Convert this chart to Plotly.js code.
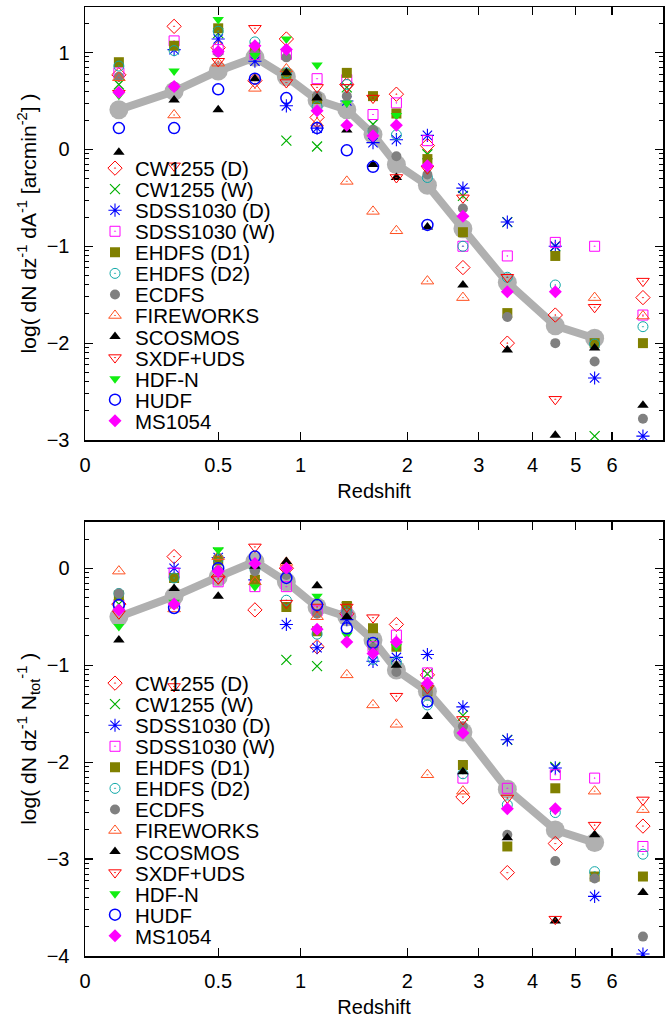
<!DOCTYPE html>
<html><head><meta charset="utf-8">
<script src="https://cdn.plot.ly/plotly-3.0.1.min.js"></script>
<style>html,body{margin:0;padding:0;background:#fff}</style>
</head><body><div id="chart" style="width:665px;height:1021px"></div>
<script>
// ---------------- data ----------------
const redshift = [0.1, 0.3, 0.5, 0.7, 0.9, 1.125, 1.375, 1.625, 1.875, 2.25, 2.75, 3.5, 4.5, 5.5, 7];
const avgRedshift = [0.1, 0.3, 0.5, 0.7, 0.9, 1.125, 1.375, 1.625, 1.875, 2.25, 2.75, 3.5, 4.5, 5.5];
const xTickValues = [0, 0.5, 1, 2, 3, 4, 5, 6];
const xTickLabels = ['0', '0.5', '1', '2', '3', '4', '5', '6'];
const names = ['CW1255 (D)', 'CW1255 (W)', 'SDSS1030 (D)', 'SDSS1030 (W)', 'EHDFS (D1)', 'EHDFS (D2)', 'ECDFS',
  'FIREWORKS', 'SCOSMOS', 'SXDF+UDS', 'HDF-N', 'HUDF', 'MS1054'];

// top panel: log(dN dz^-1 dA^-1 [arcmin^-2])
const avgArea = [0.41, 0.60, 0.81, 0.95, 0.75, 0.51, 0.41, 0.155, -0.155, -0.37, -0.82, -1.375, -1.82, -1.95];
const cw1255D_area   = [0.77, 1.27, 1.05, 0.71, 1.14, 0.33, 0.67, null, 0.57, 0.04, -1.22, -2.00, -1.71, null, -1.53];
const cw1255W_area   = [0.67, null, 1.20, null, 0.09, 0.03, 0.64, 0.26, null, -0.05, -0.48, -0.75, -1.00, -2.96, null];
const sdss1030D_area = [null, 1.03, 1.14, 0.91, 0.45, 0.22, 0.50, 0.07, 0.10, 0.145, -0.40, -0.75, -1.00, -2.36, -2.96];
const sdss1030W_area = [0.79, 1.12, 1.03, 0.98, 0.98, 0.73, 0.72, 0.36, 0.48, 0.09, -1.00, -1.10, -0.96, -1.00, -1.71];
const ehdfsD1_area   = [0.90, 1.07, 1.25, 1.05, 0.78, 0.52, 0.79, 0.55, 0.37, -0.10, -0.855, -1.69, -1.10, -2.00, -2.00];
const ehdfsD2_area   = [0.86, 1.02, 1.22, 1.11, 0.79, 0.44, 0.67, 0.19, 0.15, -0.29, -1.00, -1.32, -1.40, -2.01, -1.83];
const ecdfs_area     = [0.75, 0.65, 1.00, 0.99, 0.95, 0.55, 0.55, 0.20, -0.07, -0.26, -0.61, -1.73, -2.00, -2.19, -2.78];
const fireworks_area = [0.74, 0.355, 0.89, 0.63, 0.83, 0.27, -0.33, -0.64, -0.84, -1.36, -1.53, null, null, -1.53, -1.72];
const scosmos_area   = [-0.03, 0.51, 0.41, 0.73, 0.79, 0.53, 0.20, -0.155, -0.29, -0.80, -1.40, -2.07, -2.95, -2.05, -2.64];
const sxdf_area      = [0.58, -0.17, 0.91, 1.25, 0.69, 0.64, 0.64, 0.53, -0.29, -0.20, -0.50, -1.32, -2.58, -1.63, -1.36];
const hdfn_area      = [0.56, 0.81, 1.34, 0.97, 1.14, 0.87, 0.48, null, 0.35, null, null, null, null, null, null];
const hudf_area      = [0.22, 0.22, 0.62, 0.73, 0.53, 0.22, -0.01, -0.18, null, -0.78, null, null, null, null, null];
const ms1054_area    = [0.59, 0.65, 1.01, 1.07, 1.03, 0.40, 0.25, 0.14, 0.25, -0.17, -0.69, -1.47, -1.47, null, null];

// bottom panel: log(dN dz^-1 Ntot^-1)
const avgNorm = [-0.50, -0.29, -0.09, 0.07, -0.14, -0.40, -0.50, -0.74, -1.05, -1.27, -1.69, -2.28, -2.70, -2.83];
const cw1255D_norm   = [-0.37, 0.12, -0.09, -0.43, 0.00, -0.81, -0.47, null, -0.58, -1.10, -2.36, -3.14, -2.84, null, -2.66];
const cw1255W_norm   = [-0.37, null, 0.16, null, -0.945, -1.01, -0.40, -0.77, null, -1.09, -1.52, -1.77, -2.05, null, null];
const sdss1030D_norm = [null, 0.00, 0.11, -0.12, -0.58, -0.82, -0.53, -0.96, -0.92, -0.89, -1.43, -1.77, -2.06, -3.385, -3.98];
const sdss1030W_norm = [-0.38, -0.05, -0.14, -0.19, -0.19, -0.44, -0.45, -0.81, -0.69, -1.08, -2.165, -2.27, -2.13, -2.165, -2.87];
const ehdfsD1_norm   = [-0.28, -0.10, 0.08, -0.12, -0.40, -0.65, -0.39, -0.62, -0.81, -1.27, -2.03, -2.87, -2.27, -3.18, -3.18];
const ehdfsD2_norm   = [-0.26, -0.10, 0.10, -0.01, -0.33, -0.68, -0.45, -0.94, -0.97, -1.41, -2.12, -2.44, -2.52, -3.13, -2.95];
const ecdfs_norm     = [-0.26, -0.37, -0.02, -0.03, -0.07, -0.47, -0.47, -0.82, -1.07, -1.28, -1.63, -2.75, -3.02, -3.20, -3.80];
const fireworks_norm = [-0.03, -0.42, 0.12, -0.14, 0.06, -0.50, -1.10, -1.41, -1.61, -2.13, -2.30, null, null, -2.30, -2.49];
const scosmos_norm   = [-0.74, -0.21, -0.29, 0.02, 0.07, -0.18, -0.50, -0.86, -1.00, -1.53, -2.10, -2.78, -3.64, -2.75, -3.345];
const sxdf_norm      = [-0.47, -1.22, -0.11, 0.22, -0.36, -0.40, -0.40, -0.51, -1.32, -1.24, -1.56, -2.37, -3.62, -2.65, -2.39];
const hdfn_norm      = [-0.60, -0.35, 0.19, -0.19, -0.02, -0.29, -0.69, null, -0.81, null, null, null, null, null, null];
const hudf_norm      = [-0.38, -0.41, 0.00, 0.12, -0.10, -0.38, -0.62, -0.77, null, -1.375, null, null, null, null, null];
const ms1054_norm    = [-0.43, -0.37, -0.03, 0.05, 0.00, -0.63, -0.76, -0.88, -0.76, -1.19, -1.70, -2.48, -2.48, null, null];

// ---------------- styles ----------------
const topSeries = [cw1255D_area, cw1255W_area, sdss1030D_area, sdss1030W_area, ehdfsD1_area, ehdfsD2_area, ecdfs_area,
  fireworks_area, scosmos_area, sxdf_area, hdfn_area, hudf_area, ms1054_area];
const botSeries = [cw1255D_norm, cw1255W_norm, sdss1030D_norm, sdss1030W_norm, ehdfsD1_norm, ehdfsD2_norm, ecdfs_norm,
  fireworks_norm, scosmos_norm, sxdf_norm, hdfn_norm, hudf_norm, ms1054_norm];
const markers = [
  {symbol: 'diamond-open-dot', color: '#ff0000', size: 11, line: {width: 1, color: '#ff0000'}},
  {symbol: 'x-thin-open', color: '#00b000', size: 10, line: {width: 1.2, color: '#00b000'}},
  {symbol: 'asterisk-open', color: '#0000ff', size: 11, line: {width: 1.1, color: '#0000ff'}},
  {symbol: 'square-open-dot', color: '#ff00ff', size: 10, line: {width: 1, color: '#ff00ff'}},
  {symbol: 'square', color: '#808000', size: 10, line: {width: 0}},
  {symbol: 'circle-open-dot', color: '#10a8a8', size: 10, line: {width: 1, color: '#10a8a8'}},
  {symbol: 'circle', color: '#808080', size: 10, line: {width: 0}},
  {symbol: 'triangle-up-open-dot', color: '#ff5020', size: 11, line: {width: 1, color: '#ff5020'}},
  {symbol: 'triangle-up', color: '#000000', size: 10, line: {width: 0}},
  {symbol: 'triangle-down-open-dot', color: '#ff0000', size: 11, line: {width: 1, color: '#ff0000'}},
  {symbol: 'triangle-down', color: '#11ee11', size: 10, line: {width: 0}},
  {symbol: 'circle-open', color: '#0000ff', size: 11, line: {width: 1.5, color: '#0000ff'}},
  {symbol: 'diamond', color: '#ff00ff', size: 10, line: {width: 0}}
];

const zOffset = 0.6;               // axis is logarithmic in (z + 0.6)
const toAxis = z => z + zOffset;
const FONT = 'Liberation Sans, Arial, Helvetica, sans-serif';

const W = 665, H = 1021, ML = 85, MR = 2, MT = 7, MB = 65;
const plotH = H - MT - MB, plotW = W - ML - MR;
const pyToPaper = py => 1 - (py - MT) / plotH;
const pxToPaper = px => (px - ML) / plotW;

const traces = [];
function avgTrace(yv, xa, ya) {
  return {x: avgRedshift.map(toAxis), y: yv, xaxis: xa, yaxis: ya, type: 'scatter', mode: 'lines+markers',
    line: {color: '#b0b0b0', width: 8}, marker: {color: '#b0b0b0', size: 19}, showlegend: false, hoverinfo: 'skip'};
}
traces.push(avgTrace(avgArea, 'x', 'y'));
traces.push(avgTrace(avgNorm, 'x2', 'y2'));
names.forEach((nm, i) => {
  traces.push({x: redshift.map(toAxis), y: topSeries[i], xaxis: 'x', yaxis: 'y', type: 'scatter', mode: 'markers',
    name: nm, marker: markers[i], legend: i === 0 ? 'legend' : 'legend' + (i + 1), cliponaxis: true});
});
names.forEach((nm, i) => {
  traces.push({x: redshift.map(toAxis), y: botSeries[i], xaxis: 'x2', yaxis: 'y2', type: 'scatter', mode: 'markers',
    name: nm, marker: markers[i], legend: 'legend' + (i + 14), cliponaxis: true});
});

function minorVals(lo, hi) {
  const v = [];
  for (let n = Math.floor(lo); n < hi; n++) {
    for (let k = 2; k <= 9; k++) { const t = n + Math.log10(k); if (t > lo && t < hi) v.push(t); }
  }
  return v;
}

const xRange = [Math.log10(zOffset), Math.log10(zOffset) + plotW / 506];
const yTopRange = [-3, 1.47];
const yBotRange = [-4, 0.48];

function xAxis(anchor) {
  return {type: 'log', range: xRange, anchor: anchor, tickmode: 'array',
    tickvals: xTickValues.map(toAxis), ticktext: xTickLabels, ticks: 'inside', ticklen: 8, tickwidth: 1.2,
    tickcolor: '#000', showline: true, linecolor: '#000', linewidth: 1.5, mirror: 'ticks', showgrid: false,
    zeroline: false, ticklabelstandoff: 6, tickfont: {family: FONT, size: 20, color: '#000'},
    title: {text: 'Redshift', font: {family: FONT, size: 20, color: '#000'}, standoff: 9}};
}
function yAxis(anchor, range, domain, dtickVals, title) {
  return {range: range, domain: domain, anchor: anchor, tickmode: 'array', tickvals: dtickVals,
    ticks: 'inside', ticklen: 8, tickwidth: 1.2, tickcolor: '#000', showline: true, linecolor: '#000',
    linewidth: 1.5, mirror: 'ticks', showgrid: false, zeroline: false, ticklabelstandoff: 10,
    tickfont: {family: FONT, size: 20, color: '#000'},
    minor: {tickmode: 'array', tickvals: minorVals(range[0], range[1]), ticks: 'inside', ticklen: 4,
      tickwidth: 1, tickcolor: '#000', showgrid: false},
    title: {text: title, font: {family: FONT, size: 21, color: '#000'}, standoff: 4}};
}

const topDomain = [1 - (440 - MT) / plotH, 1];
const botDomain = [0, (956 - 521.7) / plotH];

const layout = {
  width: W, height: H, margin: {l: ML, r: MR, t: MT, b: MB}, paper_bgcolor: '#fff', plot_bgcolor: '#fff',
  font: {family: FONT, size: 20, color: '#000'},
  xaxis: xAxis('y'), xaxis2: xAxis('y2'),
  yaxis: yAxis('x', yTopRange, topDomain, [-3, -2, -1, 0, 1],
    'log( dN dz<sup>-1</sup> dA<sup>-1</sup> [arcmin<sup>-2</sup>] )'),
  yaxis2: yAxis('x2', yBotRange, botDomain, [-4, -3, -2, -1, 0],
    'log( dN dz<sup>-1</sup> N<sub>tot</sub><sup>-1</sup> )'),
  showlegend: true
};

// one legend per entry so that rows follow the reference's tight spacing
const rowStep = 21.05, topFirst = 168.3, botFirst = 683.3, legendLeft = 95;
names.forEach((nm, i) => {
  const common = {x: pxToPaper(legendLeft), xanchor: 'left', yanchor: 'middle', bgcolor: 'rgba(0,0,0,0)',
    borderwidth: 0, font: {family: FONT, size: 20.5, color: '#000'}, itemclick: false, itemdoubleclick: false};
  layout[i === 0 ? 'legend' : 'legend' + (i + 1)] = Object.assign({y: pyToPaper(topFirst + i * rowStep)}, common);
  layout['legend' + (i + 14)] = Object.assign({y: pyToPaper(botFirst + i * rowStep)}, common);
});

Plotly.newPlot('chart', traces, layout, {displayModeBar: false, staticPlot: true});
</script></body></html>
